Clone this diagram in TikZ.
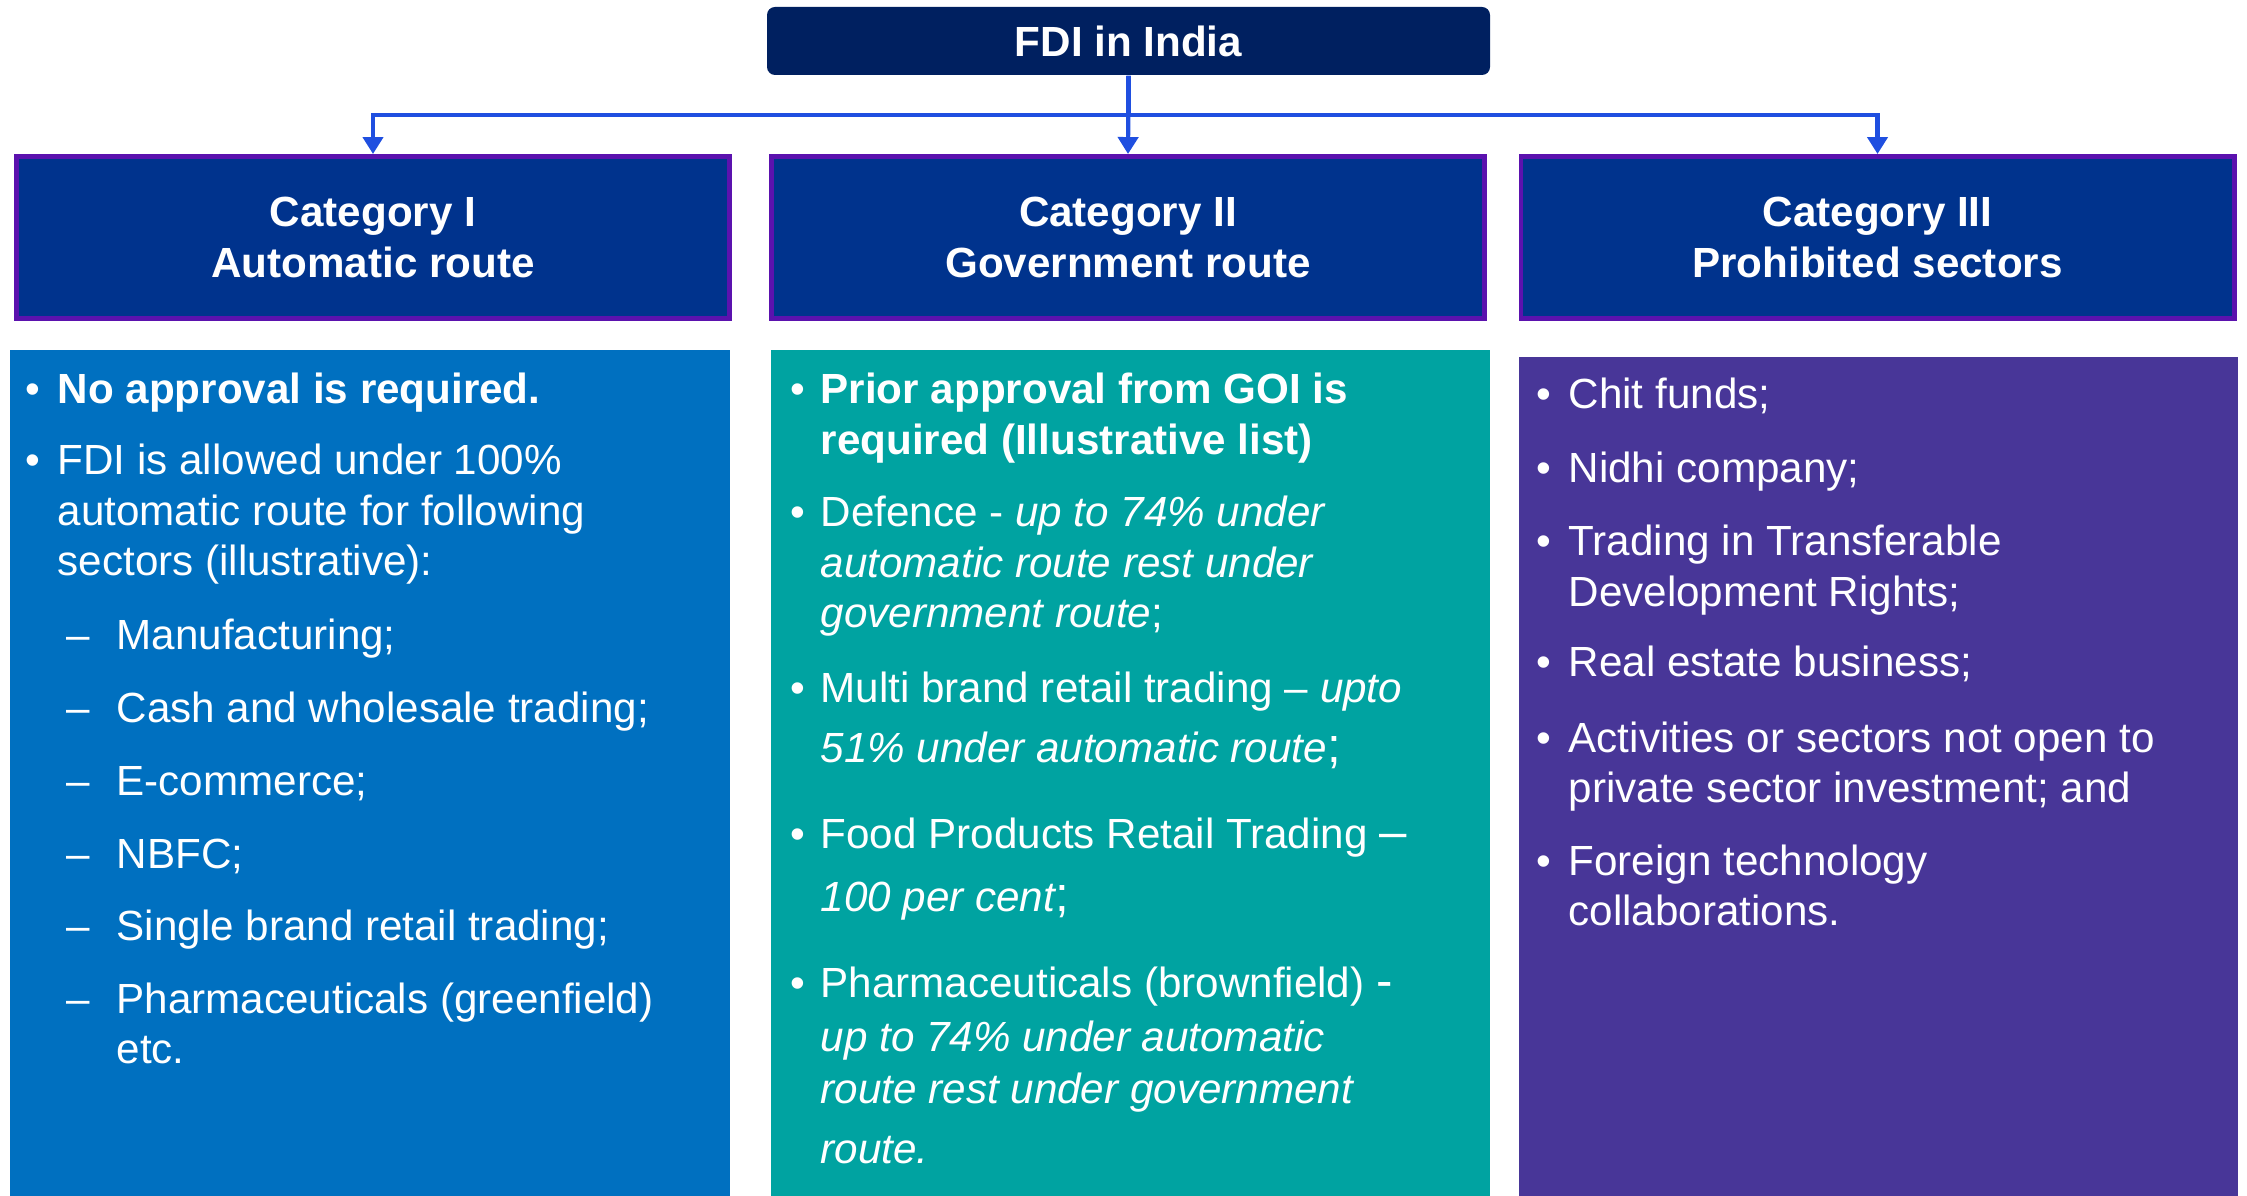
\documentclass[tikz,border=0pt]{standalone}
\usepackage{fontspec}
\setmainfont{Liberation Sans}
\usetikzlibrary{arrows.meta}

\definecolor{navy}{HTML}{002060}
\definecolor{catblue}{HTML}{00338D}
\definecolor{catedge}{HTML}{5B12AE}
\definecolor{linkblue}{HTML}{1F4FE0}
\definecolor{autoblue}{HTML}{0070C0}
\definecolor{govteal}{HTML}{00A3A1}
\definecolor{prohviolet}{HTML}{483698}

% bullet and dash items, first line on the node's base
\newcommand{\bul}[2][0.32cm]{\makebox[#1][l]{\textbullet}\begin{tabular}[t]{@{}l@{}}#2\end{tabular}}
\newcommand{\dsh}[1]{\makebox[0.50cm][l]{\textendash}\begin{tabular}[t]{@{}l@{}}#1\end{tabular}}
\newcommand{\bump}[1]{{\fontsize{14}{14.3}\selectfont #1}}

\begin{document}
\begin{tikzpicture}[%
          font=\fontsize{12}{14.3}\selectfont,
          title/.style={fill=navy, rounded corners=0.08cm, text=white,
                        font=\bfseries\fontsize{12}{14.3}\selectfont,
                        minimum width=7.23cm, minimum height=0.68cm},
          cat/.style={fill=catblue, draw=catedge, line width=1.4pt, text=white,
                      align=center, font=\bfseries\fontsize{12}{14.6}\selectfont,
                      minimum width=7.13cm, minimum height=1.62cm},
          panel/.style={minimum width=7.19cm, minimum height=8.46cm, inner sep=0pt},
          item/.style={anchor=base west, inner sep=0pt, text=white},
          link/.style={draw=linkblue, line width=1.2pt,
                       -{Triangle[length=0.17cm,width=0.2cm]}}]

  \useasboundingbox (0,0) rectangle (22.47,-11.96);

  \node[title] (fdi) at (11.285,-0.41) {FDI in India};

  \node[cat] (cat1) at (3.73,-2.375)   {Category I\\ Automatic route};
  \node[cat] (cat2) at (11.28,-2.375)  {Category II\\ Government route};
  \node[cat] (cat3) at (18.775,-2.375) {Category III\\ Prohibited sectors};

  \coordinate (bus) at (11.285,-1.15);
  \draw[link] (fdi.south) -- (fdi.south |- bus) -| (cat1.north);
  \draw[link] (fdi.south) -- (fdi.south |- bus) -| (cat3.north);
  \draw[link] (fdi.south) -- (cat2.north);

  \node[panel, fill=autoblue] (auto) at (3.70,-7.73) {};
  \node[panel, fill=govteal] (govt) at (11.305,-7.73) {};
  \node[panel, fill=prohviolet, minimum height=8.39cm] (proh) at (18.785,-7.765) {};

  % Category I
  \node[item] (a1) at (0.25,-4.04) {\bul{\bfseries No approval is required.}};
  \node[item] (a2) at (0.25,-4.75) {\bul{FDI is allowed under 100\%\\ automatic route for following\\ sectors (illustrative):}};
  \node[item] (a3) at (0.66,-6.50)  {\dsh{Manufacturing;}};
  \node[item] (a4) at (0.66,-7.23)  {\dsh{Cash and wholesale trading;}};
  \node[item] (a5) at (0.66,-7.95)  {\dsh{E-commerce;}};
  \node[item] (a6) at (0.66,-8.68)  {\dsh{NBFC;}};
  \node[item] (a7) at (0.66,-9.40)  {\dsh{Single brand retail trading;}};
  \node[item] (a8) at (0.66,-10.13) {\dsh{Pharmaceuticals (greenfield)\\ etc.}};

  % Category II
  \node[item] (b1) at (7.90,-4.04) {\bul[0.30cm]{\bfseries Prior approval from GOI is\\ \bfseries required (Illustrative list)}};
  \node[item] (b2) at (7.90,-5.27) {\bul[0.30cm]{Defence - \itshape up to 74\% under\\ \itshape automatic route rest under\\ \itshape government route\upshape;}};
  \node[item] (b3) at (7.90,-7.02) {\bul[0.30cm]{Multi brand retail trading \textendash{} \itshape upto\\[2.8pt] \itshape 51\% under automatic route\upshape\bump{;}}};
  \node[item] (b4) at (7.90,-8.48) {\bul[0.30cm]{Food Products Retail Trading \bump{\textendash}\\[3.9pt] \itshape 100 per cent\upshape\bump{;}}};
  \node[item] (b5) at (7.90,-9.97) {\bul[0.30cm]{Pharmaceuticals (brownfield) \bump{-}\\[1.1pt] \itshape up to 74\% under automatic\\[0.5pt] \itshape route rest under government\\[2.8pt] \itshape route.}};

  % Category III
  \node[item] (c1) at (15.36,-4.09) {\bul{Chit funds;}};
  \node[item] (c2) at (15.36,-4.83) {\bul{Nidhi company;}};
  \node[item] (c3) at (15.36,-5.56) {\bul{Trading in Transferable\\ Development Rights;}};
  \node[item] (c4) at (15.36,-6.77) {\bul{Real estate business;}};
  \node[item] (c5) at (15.36,-7.52) {\bul{Activities or sectors not open to\\ private sector investment; and}};
  \node[item] (c6) at (15.36,-8.75) {\bul{Foreign technology\\ collaborations.}};

\end{tikzpicture}
\end{document}
